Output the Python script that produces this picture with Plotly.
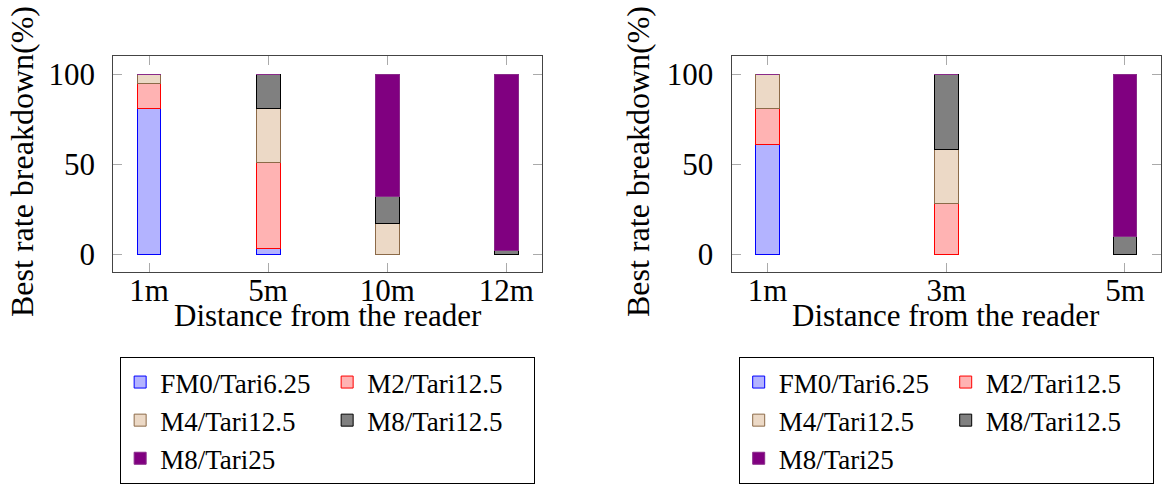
import plotly.graph_objects as go

# ---- data ----
series = ["FM0/Tari6.25", "M2/Tari12.5", "M4/Tari12.5", "M8/Tari12.5", "M8/Tari25"]

left_cats = ["1m", "5m", "10m", "12m"]
left_vals = {
    "FM0/Tari6.25": [81, 3, 0, 0],
    "M2/Tari12.5": [14, 48, 0, 0],
    "M4/Tari12.5": [5, 30, 17, 0],
    "M8/Tari12.5": [0, 19, 15, 2],
    "M8/Tari25": [0, 0, 68, 98],
}

right_cats = ["1m", "3m", "5m"]
right_vals = {
    "FM0/Tari6.25": [61, 0, 0],
    "M2/Tari12.5": [20, 28, 0],
    "M4/Tari12.5": [19, 30, 0],
    "M8/Tari12.5": [0, 42, 10],
    "M8/Tari25": [0, 0, 90],
}

fills = {
    "FM0/Tari6.25": "#b3b3ff",
    "M2/Tari12.5": "#ffb3b3",
    "M4/Tari12.5": "#ecd9c6",
    "M8/Tari12.5": "#808080",
    "M8/Tari25": "#800080",
}
lines = {
    "FM0/Tari6.25": "#0000ff",
    "M2/Tari12.5": "#ff0000",
    "M4/Tari12.5": "#8c6a48",
    "M8/Tari12.5": "#000000",
    "M8/Tari25": "#8a2a8a",
}
# legend column of each series (two-column legend, filled row by row)
legend_col = {
    "FM0/Tari6.25": "a",
    "M2/Tari12.5": "b",
    "M4/Tari12.5": "a",
    "M8/Tari12.5": "b",
    "M8/Tari25": "a",
}

FONT = "Liberation Serif"
W, H = 1164, 485

fig = go.Figure()

for s in series:
    fig.add_trace(go.Bar(
        x=left_cats, y=left_vals[s], name=s, width=0.2,
        marker=dict(color=fills[s], line=dict(color=lines[s], width=1)),
        xaxis="x", yaxis="y", legend="legend", legendgroup="L" + legend_col[s],
        showlegend=True,
    ))
for s in series:
    fig.add_trace(go.Bar(
        x=right_cats, y=right_vals[s], name=s, width=0.1326,
        marker=dict(color=fills[s], line=dict(color=lines[s], width=1)),
        xaxis="x2", yaxis="y2", legend="legend2", legendgroup="R" + legend_col[s],
        showlegend=True,
    ))

def px_x(p):
    return p / W

def px_y(p):
    return 1 - p / H

xd1 = [px_x(113.3), px_x(542)]
xd2 = [px_x(731.7), px_x(1160.7)]
yd = [px_y(272), px_y(56)]

axis_common = dict(
    showline=True, linecolor="#444444", linewidth=1.3, mirror="allticks",
    ticks="inside", ticklen=9, tickcolor="#aaaaaa", tickwidth=1.3,
    showgrid=False, zeroline=False,
    tickfont=dict(family=FONT, size=31, color="black"),
)

legend_common = dict(
    y=px_y(357), yanchor="top",
    orientation="h", entrywidth=162, entrywidthmode="pixels",
    bordercolor="black", borderwidth=1, bgcolor="white",
    font=dict(family=FONT, size=27, color="black"),
    traceorder="grouped", tracegroupgap=0,
    itemclick=False, itemdoubleclick=False, groupclick="toggleitem",
)

fig.update_layout(
    width=W, height=H,
    margin=dict(l=0, r=0, t=0, b=0, autoexpand=False),
    paper_bgcolor="white", plot_bgcolor="white",
    barmode="stack",
    font=dict(family=FONT, size=31, color="black"),
    xaxis=dict(domain=xd1, anchor="y", type="category", range=[-0.3, 3.3],
               ticklabelstandoff=-9, **axis_common),
    yaxis=dict(domain=yd, anchor="x", range=[-10, 110], tickvals=[0, 50, 100],
               ticklabelstandoff=11, **axis_common),
    xaxis2=dict(domain=xd2, anchor="y2", type="category", range=[-0.2, 2.2],
                ticklabelstandoff=-9, **axis_common),
    yaxis2=dict(domain=yd, anchor="x2", range=[-10, 110], tickvals=[0, 50, 100],
                ticklabelstandoff=11, **axis_common),
    legend=dict(x=(xd1[0] + xd1[1]) / 2, xanchor="center", **legend_common),
    legend2=dict(x=(xd2[0] + xd2[1]) / 2, xanchor="center", **legend_common),
)

annots = []
for xd in (xd1, xd2):
    annots.append(dict(
        text="Distance from the reader", x=(xd[0] + xd[1]) / 2, y=px_y(315),
        xref="paper", yref="paper", xanchor="center", yanchor="middle",
        showarrow=False, font=dict(family=FONT, size=31, color="black"),
    ))
for xc in (22, 638):
    annots.append(dict(
        text="Best rate breakdown(%)", x=px_x(xc), y=px_y(162),
        xref="paper", yref="paper", xanchor="center", yanchor="middle",
        textangle=-90, showarrow=False,
        font=dict(family=FONT, size=32, color="black"),
    ))
fig.update_layout(annotations=annots)

fig.write_html(
    "out.html",
    config={"displayModeBar": False},
    post_script="document.body.style.margin='0px';document.body.style.overflow='hidden';",
)
